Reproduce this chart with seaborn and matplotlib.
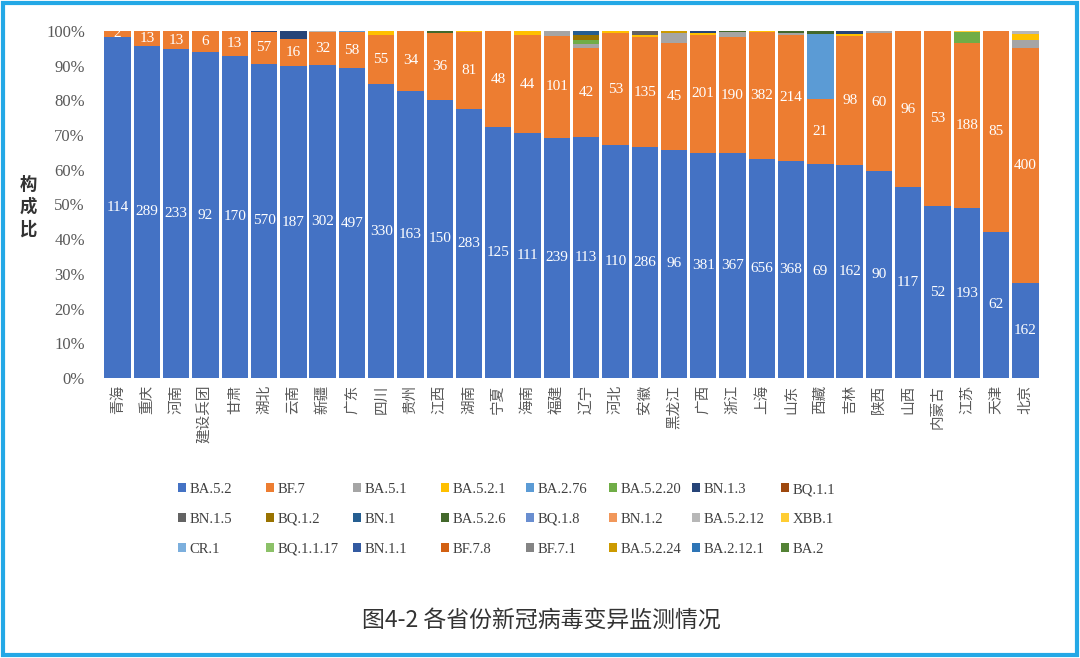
import numpy as np
import pandas as pd
import matplotlib
matplotlib.use("Agg")
import matplotlib.pyplot as plt
from matplotlib.patches import Patch, Rectangle
from matplotlib.ticker import FuncFormatter
import seaborn as sns

sns.set_theme(style="white")
plt.rcParams['font.family'] = ['Noto Sans CJK SC', 'DejaVu Sans']

provinces = ["青海", "重庆", "河南", "建设兵团", "甘肃", "湖北", "云南", "新疆", "广东", "四川",
             "贵州", "江西", "湖南", "宁夏", "海南", "福建", "辽宁", "河北", "安徽", "黑龙江",
             "广西", "浙江", "上海", "山东", "西藏", "吉林", "陕西", "山西", "内蒙古", "江苏",
             "天津", "北京"]

variants = ["BA.5.2", "BF.7", "BA.5.1", "BA.5.2.1", "BA.2.76", "BA.5.2.20", "BN.1.3", "BQ.1.1",
            "BN.1.5", "BQ.1.2", "BN.1", "BA.5.2.6", "BQ.1.8", "BN.1.2", "BA.5.2.12", "XBB.1",
            "CR.1", "BQ.1.1.17", "BN.1.1", "BF.7.8", "BF.7.1", "BA.5.2.24", "BA.2.12.1", "BA.2"]

colors = ["#4472C4", "#ED7D31", "#A5A5A5", "#FFC000", "#5B9BD5", "#70AD47", "#264478", "#9E480E",
          "#636363", "#997300", "#255E91", "#43682B", "#698ED0", "#F1975A", "#B7B7B7", "#FFCD33",
          "#7CAFDD", "#8CC168", "#335AA1", "#D26012", "#848484", "#CC9A00", "#2E75B6", "#548235"]

# counts per province (same order as provinces)
ba52 = [114, 289, 233, 92, 170, 570, 187, 302, 497, 330, 163, 150, 283, 125, 111, 239, 113, 110,
        286, 96, 381, 367, 656, 368, 69, 162, 90, 117, 52, 193, 62, 162]
bf7 = [2, 13, 13, 6, 13, 57, 16, 32, 58, 55, 34, 36, 81, 48, 44, 101, 42, 53, 135, 45, 201, 190,
       382, 214, 21, 98, 60, 96, 53, 188, 85, 400]
ba51 = [0, 0, 0, 0, 0, 0, 0, 0, 0, 0, 0, 0, 0, 0, 0, 5, 2, 0, 0, 4, 0, 8, 0, 3, 0, 0, 1, 0, 0, 0, 0, 13]
ba521 = [0, 0, 0, 0, 0, 0, 0, 0, 0, 5, 0, 0, 1, 0, 2, 0, 0, 1, 3, 0, 2, 0, 2, 0, 0, 2, 0, 0, 0, 0, 0, 11]
ba276 = [0, 0, 0, 0, 0, 0, 0, 0, 2, 0, 0, 0, 0, 0, 0, 0, 0, 0, 0, 0, 0, 0, 0, 0, 21, 0, 0, 0, 0, 0, 0, 0]
ba5220 = [0, 0, 0, 0, 0, 0, 0, 0, 0, 0, 0, 0, 0, 0, 0, 0, 2, 0, 0, 0, 0, 0, 0, 0, 0, 0, 0, 0, 0, 13, 0, 0]
bn13 = [0, 0, 0, 0, 0, 2, 5, 0, 0, 0, 0, 0, 0, 0, 0, 0, 0, 0, 0, 0, 4, 0, 0, 0, 0, 2, 0, 0, 0, 0, 0, 0]
bn15 = [0, 0, 0, 0, 0, 0, 0, 0, 0, 0, 0, 0, 0, 0, 0, 0, 0, 0, 5, 0, 0, 0, 1, 0, 0, 0, 0, 0, 0, 0, 0, 0]
bq12 = [0, 0, 0, 0, 0, 0, 0, 0, 0, 0, 0, 0, 0, 0, 0, 0, 2, 0, 0, 0, 0, 0, 0, 0, 0, 0, 0, 0, 0, 0, 0, 0]
bn1 = [0, 0, 0, 0, 0, 0, 0, 0, 0, 0, 0, 0, 0, 0, 0, 0, 2, 0, 0, 0, 0, 0, 0, 0, 0, 0, 0, 0, 0, 0, 0, 0]
ba526 = [0, 0, 0, 0, 0, 0, 0, 0, 0, 0, 0, 1, 0, 0, 0, 0, 0, 0, 0, 0, 0, 2, 0, 3, 1, 0, 0, 0, 0, 0, 0, 0]
ba5212 = [0, 0, 0, 0, 0, 0, 0, 1, 0, 0, 0, 0, 0, 0, 0, 0, 0, 0, 0, 0, 0, 0, 0, 0, 0, 0, 0, 0, 0, 0, 0, 5]
xbb1 = [0, 0, 0, 0, 0, 0, 0, 0, 0, 0, 0, 0, 0, 0, 0, 0, 0, 0, 0, 0, 0, 0, 0, 0, 0, 0, 0, 0, 0, 1, 0, 0]
ba5224 = [0, 0, 0, 0, 0, 0, 0, 0, 0, 0, 0, 0, 0, 0, 0, 0, 0, 0, 0, 1, 0, 0, 0, 0, 0, 0, 0, 0, 0, 0, 0, 0]

zeros = [0] * len(provinces)
series = {v: zeros for v in variants}
series.update({"BA.5.2": ba52, "BF.7": bf7, "BA.5.1": ba51, "BA.5.2.1": ba521, "BA.2.76": ba276,
               "BA.5.2.20": ba5220, "BN.1.3": bn13, "BN.1.5": bn15, "BQ.1.2": bq12, "BN.1": bn1,
               "BA.5.2.6": ba526, "BA.5.2.12": ba5212, "XBB.1": xbb1, "BA.5.2.24": ba5224})

counts = pd.DataFrame(series, index=provinces)[variants]
totals = counts.sum(axis=1)
props = counts.div(totals, axis=0)

fig = plt.figure(figsize=(10.8, 6.58), dpi=100)
fig.patch.set_facecolor("white")
ax = fig.add_axes([103 / 1080, 1 - 378 / 658, 937 / 1080, 347 / 658])

bottom = np.zeros(len(provinces))
for v, c in zip(variants, colors):
    vals = props[v].values
    sns.barplot(x=provinces, y=vals, bottom=bottom, color=c, width=0.9, ax=ax,
                linewidth=0, saturation=1, errorbar=None)
    bottom = bottom + vals

serif = "Liberation Serif"
ax.bar_label(ax.containers[0], labels=[str(v) for v in ba52], label_type="center",
             color="white", fontsize=11, family=serif)
ax.bar_label(ax.containers[1], labels=[str(v) for v in bf7], label_type="center",
             color="white", fontsize=11, family=serif)

ax.set_ylim(0, 1.0)
ax.set_xlim(-0.5, len(provinces) - 0.5)
ax.set_yticks(np.arange(0, 1.01, 0.1))
ax.yaxis.set_major_formatter(FuncFormatter(lambda y, p: f"{y * 100:.0f}%"))
for lab in ax.get_yticklabels():
    lab.set_family(serif)
    lab.set_fontsize(12)
    lab.set_color("#595959")
ax.tick_params(axis="y", length=0, pad=13)
ax.tick_params(axis="x", length=0, pad=5)
ax.set_xticks(range(len(provinces)))
ax.set_xticklabels(provinces, rotation=90, fontsize=10.5, color="#595959", va="top", ha="center")
ax.set_xlabel("")
ax.set_ylabel("")
for s in ax.spines.values():
    s.set_visible(False)
ax.set_facecolor("white")

fig.text(28 / 1080, 1 - 207 / 658, "构\n成\n比", ha="center", va="center", fontsize=12.5,
         fontweight="bold", color="#333333", linespacing=1.3)

# legend: 3 rows x 8 columns, row-major order
handles = [Patch(facecolor=c, edgecolor="none") for c in colors]
col_x = [178, 266, 353, 441, 526, 609, 692, 781]
for ci, x in enumerate(col_x):
    idx = [r * 8 + ci for r in range(3)]
    fig.legend([handles[i] for i in idx], [variants[i] for i in idx], loc="upper left",
               bbox_to_anchor=(x / 1080, 1 - 483 / 658), frameon=False, borderpad=0,
               borderaxespad=0, handlelength=0.55, handleheight=0.55, handletextpad=0.25,
               labelspacing=1.15, prop={"family": serif, "size": 10.5}, labelcolor="#404040")

fig.text(541 / 1080, 1 - 620 / 658, "图4-2 各省份新冠病毒变异监测情况", ha="center", va="center",
         fontsize=16.5, color="#333333")

fig.patches.append(Rectangle((0.003, 0.005), 0.994, 0.99, transform=fig.transFigure, fill=False,
                             edgecolor="#23A8E6", linewidth=3))

fig.savefig("out.png", dpi=100, facecolor="white")
